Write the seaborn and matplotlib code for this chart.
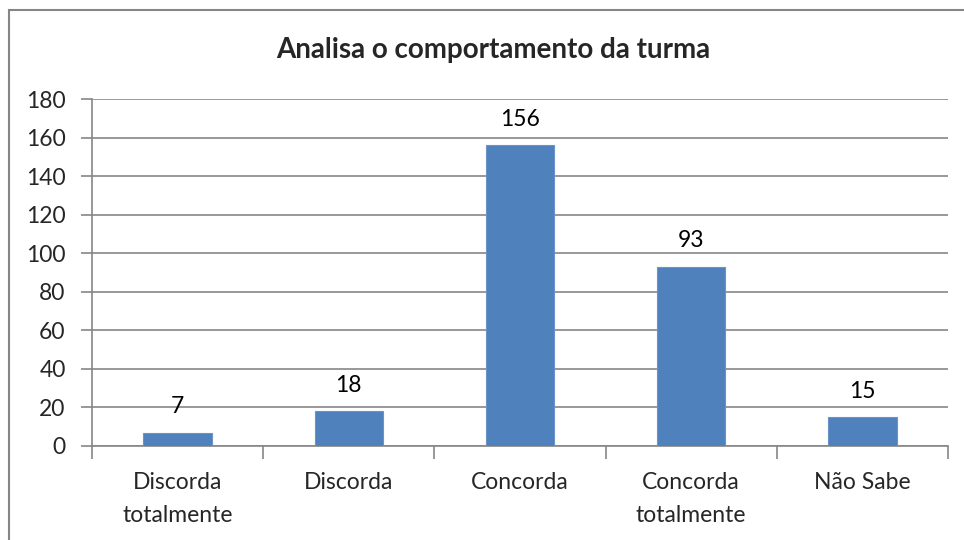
import numpy as np
import pandas as pd
import matplotlib.pyplot as plt
import seaborn as sns
from matplotlib.patches import Rectangle

categorias = ["Discorda\ntotalmente", "Discorda", "Concorda", "Concorda\ntotalmente", "Não Sabe"]
valores = [7, 18, 156, 93, 15]
titulo = "Analisa o comportamento da turma"

sns.set_style("white")
plt.rcParams['font.family'] = ['Lato', 'DejaVu Sans']

df = pd.DataFrame({"cat": categorias, "n": valores})

fig = plt.figure(figsize=(9.64, 5.4), dpi=100)
ax = fig.add_axes([92/964, 1-446/540, (948-92)/964, (446-99)/540])

sns.barplot(data=df, x="cat", y="n", color="#4F81BD", width=0.4,
            saturation=1, edgecolor="#6A93C8", linewidth=0.8, ax=ax, zorder=3)

ax.set_ylim(0, 180)
ax.set_yticks(range(0, 181, 20))
ax.set_xlim(-0.5, len(categorias) - 0.5)
ax.yaxis.grid(True, color="#868686", linewidth=1.2, zorder=0)
ax.set_axisbelow(True)
ax.set_xlabel("")
ax.set_ylabel("")

for s in ["top", "right"]:
    ax.spines[s].set_visible(False)
for s in ["left", "bottom"]:
    ax.spines[s].set_color("#868686")
    ax.spines[s].set_linewidth(1.2)

ax.tick_params(axis="y", length=8, width=1.2, color="#868686", labelsize=16.5, pad=11, left=True)
ax.tick_params(axis="x", which="major", length=0, labelsize=16.5, pad=19)
ax.set_xticks(np.arange(-0.5, len(categorias), 1), minor=True)
ax.tick_params(axis="x", which="minor", length=9, width=1.2, color="#868686", bottom=True)
for lab in ax.get_xticklabels():
    lab.set_linespacing(1.7)

for i, v in enumerate(valores):
    ax.text(i, v + 8, str(v), ha="center", va="bottom", fontsize=16.5, color="black")

fig.text(493/964, 1-50/540, titulo, ha="center", va="center", fontsize=20, fontweight="bold")

fig.patches.append(Rectangle((9/964, -0.1), 1.2, 1 - 10/540 + 0.1, transform=fig.transFigure,
                             fill=False, edgecolor="#868686", linewidth=1.5))

fig.savefig("out.png", dpi=100)
